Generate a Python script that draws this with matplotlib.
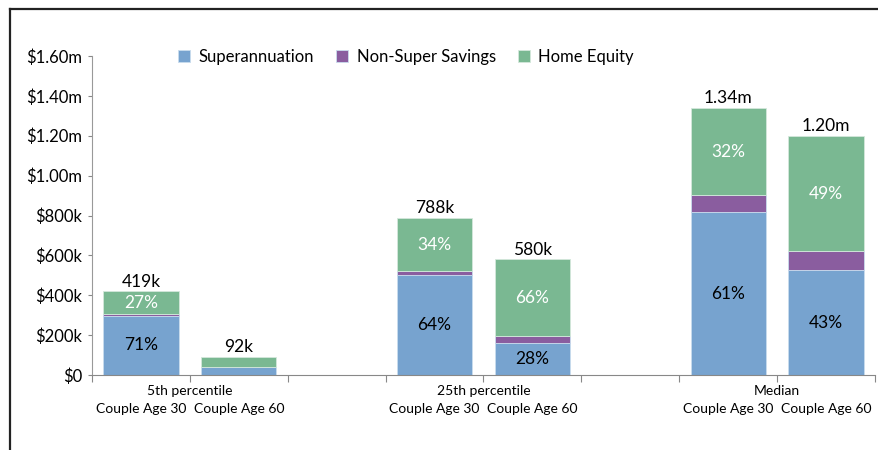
import matplotlib.pyplot as plt
from matplotlib.lines import Line2D
from matplotlib.transforms import blended_transform_factory

plt.rcParams['font.family'] = ['Lato', 'DejaVu Sans']

# Data ($m)
groups = ['5th percentile', '25th percentile', 'Median']
couples = ['Couple Age 30', 'Couple Age 60']
superann = [0.297, 0.040, 0.504, 0.162, 0.817, 0.525]
non_super = [0.008, 0.002, 0.016, 0.035, 0.085, 0.095]
home = [0.114, 0.050, 0.268, 0.383, 0.438, 0.580]
totals = ['419k', '92k', '788k', '580k', '1.34m', '1.20m']
super_pct = ['71%', '', '64%', '28%', '61%', '43%']
home_pct = ['27%', '', '34%', '66%', '32%', '49%']
yticks = [0, 0.2, 0.4, 0.6, 0.8, 1.0, 1.2, 1.4, 1.6]
ytick_labels = ['$0', '$200k', '$400k', '$600k', '$800k', '$1.00m', '$1.20m', '$1.40m', '$1.60m']

c_super = '#77a3cf'
c_non = '#8a5d9f'
c_home = '#7ab892'

fig = plt.figure(figsize=(8.79, 4.5), dpi=100)
ax = fig.add_axes([92 / 879, 1 - 375 / 450, (875 - 92) / 879, (375 - 56) / 450])

xpos = [0, 1, 3, 4, 6, 7]
w = 0.77
base2 = [s + n for s, n in zip(superann, non_super)]
ax.bar(xpos, superann, w, color=c_super, edgecolor='#c9dcee', linewidth=0.6, label='Superannuation')
ax.bar(xpos, non_super, w, bottom=superann, color=c_non, edgecolor='#c9dcee', linewidth=0.6,
       label='Non-Super Savings')
ax.bar(xpos, home, w, bottom=base2, color=c_home, edgecolor='#d4e8dc', linewidth=0.6, label='Home Equity')

for i, x in enumerate(xpos):
    top = base2[i] + home[i]
    ax.text(x, top + 0.008, totals[i], ha='center', va='bottom', fontsize=12.5, color='black')
    if super_pct[i]:
        ax.text(x, superann[i] / 2, super_pct[i], ha='center', va='center', fontsize=12.5, color='black')
    if home_pct[i]:
        ax.text(x, base2[i] + home[i] / 2, home_pct[i], ha='center', va='center', fontsize=12.5,
                color='white')

ax.set_xlim(-0.5, 7.5)
ax.set_ylim(0, 1.6)
ax.set_yticks(yticks)
ax.set_yticklabels(ytick_labels, fontsize=12)
ax.set_xticks([x - 0.5 for x in range(9)])
ax.set_xticklabels([])
ax.tick_params(axis='y', direction='out', length=3, color='#888888', pad=4)
ax.tick_params(axis='x', direction='out', length=5, color='#888888')
for side in ['top', 'right']:
    ax.spines[side].set_visible(False)
ax.spines['left'].set_color('#999999')
ax.spines['bottom'].set_color('#888888')

trans = blended_transform_factory(ax.transData, ax.transAxes)
for g, name in enumerate(groups):
    ax.text(3 * g + 0.5, -0.05, name, transform=trans, ha='center', va='center', fontsize=10)
    for k in range(2):
        ax.text(3 * g + k, -0.107, couples[k], transform=trans, ha='center', va='center', fontsize=10)

ax.legend(loc='center', bbox_to_anchor=(406 / 879, 1 - 57 / 450), bbox_transform=fig.transFigure,
          ncol=3, frameon=False, fontsize=12, handlelength=0.75, handleheight=0.75,
          handletextpad=0.5, columnspacing=1.3)

# outer frame (top and left only)
fig.add_artist(Line2D([10 / 879, 1], [1 - 9 / 450, 1 - 9 / 450], color='#222222', lw=1.6))
fig.add_artist(Line2D([10 / 879, 10 / 879], [0, 1 - 9 / 450], color='#222222', lw=1.6))

fig.savefig('out.png', dpi=100)
